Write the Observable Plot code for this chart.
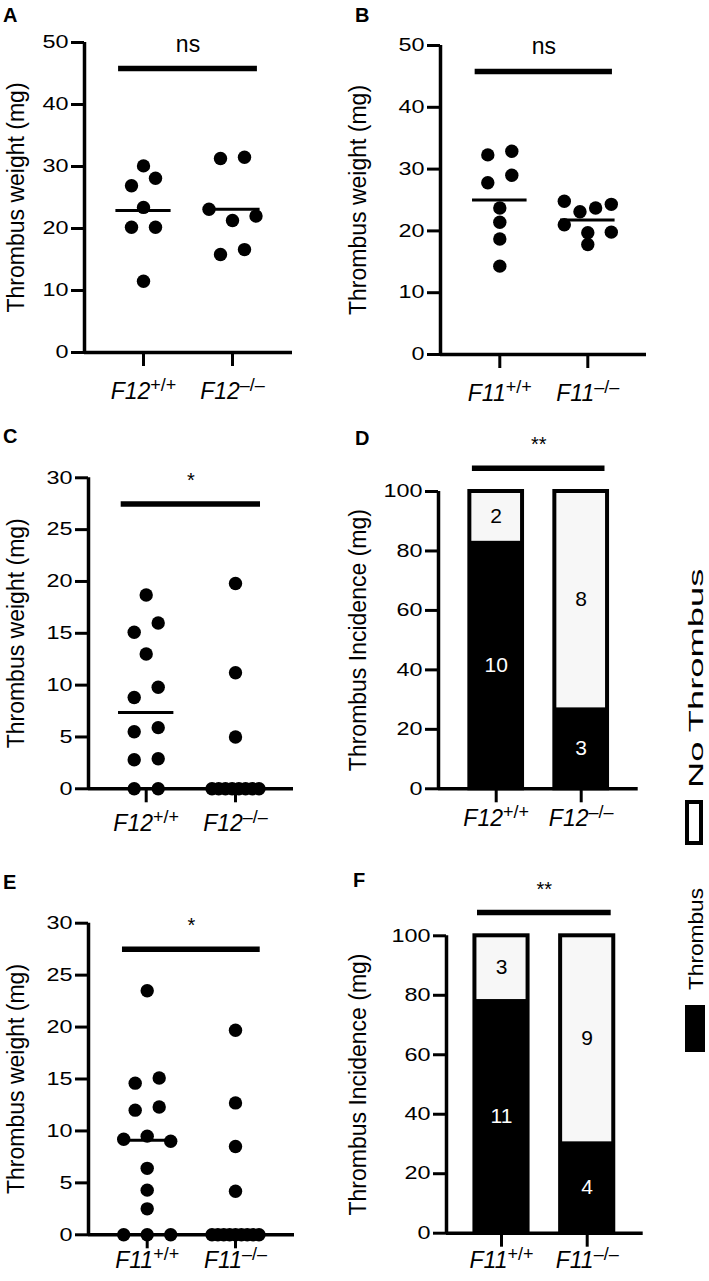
<!DOCTYPE html>
<html><head><meta charset="utf-8">
<script src="https://cdn.jsdelivr.net/npm/d3@7"></script>
<script src="https://cdn.jsdelivr.net/npm/@observablehq/plot@0.6"></script>
<style>
body{margin:0;background:#fff;}
#root{position:relative;width:709px;height:1281px;overflow:hidden;font-family:"Liberation Sans",Arial,sans-serif;background:#fff;}
.panel{position:absolute;}
.letter{position:absolute;font-weight:bold;font-size:20px;line-height:20px;font-family:"Liberation Sans",Arial,sans-serif;}
</style></head><body><div id="root"></div>
<script>
// ---------------- DATA ----------------
const f12Labels = ["F12+/+", "F12–/–"];
const f11Labels = ["F11+/+", "F11–/–"];

const panelA_wt = [30.1, 26.9, 28.1, 23.4, 20.2, 20.2, 11.5];
const panelA_ko = [31.3, 31.5, 23.1, 21.3, 22.0, 15.8, 16.6];
const panelB_wt = [32.3, 32.9, 27.8, 29.0, 23.7, 21.4, 18.7, 14.3];
const panelB_ko = [24.8, 23.1, 23.7, 24.3, 21.0, 19.7, 19.8, 17.8];
const panelC_wt = [18.7, 15.1, 16.0, 13.0, 8.8, 9.8, 5.5, 5.9, 2.8, 2.9, 0, 0];
const panelC_ko = [19.8, 11.2, 5.0, 0, 0, 0, 0, 0, 0, 0, 0];
const panelE_wt = [23.5, 14.6, 15.1, 12.0, 12.3, 9.2, 9.5, 9.0, 6.4, 4.3, 2.5, 0, 0, 0];
const panelE_ko = [19.7, 12.7, 8.5, 4.2, 0, 0, 0, 0, 0, 0, 0, 0, 0];

const panelD_thrombus = [10, 3];
const panelD_none = [2, 8];
const panelF_thrombus = [11, 4];
const panelF_none = [3, 9];

const sigLabels = {A: "ns", B: "ns", C: "*", D: "**", E: "*", F: "**"};
const weightTicksAB = [0, 10, 20, 30, 40, 50];
const weightTicksCE = [0, 5, 10, 15, 20, 25, 30];
const incidenceTicks = [0, 20, 40, 60, 80, 100];
const weightLabel = "Thrombus weight (mg)";
const incidenceLabel = "Thrombus Incidence (mg)";
const legendLabels = ["No Thrombus", "Thrombus"];
const panelLetters = ["A", "B", "C", "D", "E", "F"];

// ---------------- LAYOUT ----------------
const layout = {
  A: {left: 0, top: 0, w: 340, h: 420, axisX: 84, rightX: 292, yTop: 42, yBot: 352, c0: 143, c1: 232, labelDy: 46, labelX: 16},
  B: {left: 340, top: 0, w: 369, h: 420, axisX: 100, rightX: 306, yTop: 45, yBot: 354, c0: 159.3, c1: 247.3, labelDy: 46, labelX: 18},
  C: {left: 0, top: 420, w: 340, h: 430, axisX: 88, rightX: 293, yTop: 57.3, yBot: 368.3, c0: 145.7, c1: 235, labelDy: 42, labelX: 16},
  D: {left: 340, top: 420, w: 369, h: 430, axisX: 98, rightX: 297.7, yTop: 71, yBot: 368.3, c0: 155.7, c1: 240.7, labelDy: 37, labelX: 18},
  E: {left: 0, top: 850, w: 340, h: 431, axisX: 88, rightX: 294, yTop: 72.7, yBot: 384.3, c0: 146.7, c1: 235, labelDy: 33, labelX: 16},
  F: {left: 340, top: 850, w: 369, h: 431, axisX: 106, rightX: 302.7, yTop: 85.3, yBot: 382.7, c0: 161, c1: 246.7, labelDy: 35, labelX: 18}
};
const letterPos = {A: [3, 5], B: [355, 5], C: [3, 426], D: [355, 428], E: [3, 872], F: [353, 870]};
const FONT = '"Liberation Sans", Arial, sans-serif';
const XFONT = 23;

const root = document.getElementById("root");

function frameOpts(L, yMax) {
  const step = L.c1 - L.c0;
  const xDom = [(L.axisX - L.c0) / step, (L.rightX - L.c0) / step];
  return {step, xDom, plot: {
    width: L.w, height: L.h,
    marginLeft: L.axisX, marginRight: L.w - L.rightX,
    marginTop: L.yTop, marginBottom: L.h - L.yBot,
    x: {type: "linear", domain: xDom},
    y: {type: "linear", domain: [0, yMax]},
    style: {fontFamily: FONT, overflow: "visible", background: "transparent", color: "black"}
  }};
}

function axesMarks(L, labels, ticks, yMax, xDom, step, yLabel) {
  const xLab = (L.labelX - L.c0) / step;
  return [
    Plot.ruleX([xDom[0]], {y1: 0, y2: yMax, strokeWidth: 3.5, stroke: "black"}),
    Plot.ruleY([0], {x1: xDom[0], x2: xDom[1], strokeWidth: 3.5, stroke: "black"}),
    Plot.axisY({ticks, tickSize: 13, tickPadding: 3, fontSize: 18, strokeWidth: 3, label: null, tickFormat: d => String(d)}),
    Plot.axisX({ticks: [0, 1], tickSize: 14, tickPadding: L.labelDy - 14 - 0.71 * XFONT, fontSize: XFONT, strokeWidth: 3, label: null, tickFormat: i => labels[i]}),
    Plot.text([yLabel], {text: d => d, x: xLab, y: yMax / 2, rotate: -90, fontSize: 23, fill: "black"})
  ];
}

function postProcess(svg) {
  const s = d3.select(svg);
  s.selectAll('g[aria-label="x-axis tick label"] text').each(function () {
    const t = this.textContent;
    const m = t.match(/^(F\d+)(.*)$/);
    if (!m) return;
    const sel = d3.select(this);
    sel.text(null);
    sel.append("tspan").attr("font-style", "italic").text(m[1]);
    sel.append("tspan").attr("font-size", 18).attr("dy", -8).text(m[2]);
  });
  s.selectAll('g[aria-label="y-axis tick label"] text').each(function () {
    const tr = this.getAttribute("transform");
    if (tr) this.setAttribute("transform", tr + " scale(1.3,1)");
  });
}

function place(svg, L) {
  const div = document.createElement("div");
  div.className = "panel";
  div.style.left = L.left + "px";
  div.style.top = L.top + "px";
  div.appendChild(svg);
  root.appendChild(div);
}

function scatterPanel(key, groups, labels, ticks, stat) {
  const L = layout[key];
  const yMax = ticks[ticks.length - 1];
  const {step, xDom, plot} = frameOpts(L, yMax);
  const pxPerUnit = (L.yBot - L.yTop) / yMax;
  const pts = [];
  groups.forEach((vals, gi) => {
    const idx = vals.map((v, i) => i).sort((a, b) => vals[b] - vals[a] || a - b);
    const rows = [];
    let cur = null;
    for (const i of idx) {
      if (cur && (vals[cur.start] - vals[i]) * pxPerUnit <= 11.8) cur.items.push(i);
      else { cur = {start: i, items: [i]}; rows.push(cur); }
    }
    for (const r of rows) {
      r.items.sort((a, b) => a - b);
      const n = r.items.length;
      const sp = n > 1 ? Math.min(24, 47 / (n - 1)) : 0;
      r.items.forEach((i, k) => pts.push({x: gi + (k - (n - 1) / 2) * sp / step, y: vals[i]}));
    }
  });
  const centers = groups.map((vals, gi) => ({gi, v: stat === "mean" ? d3.mean(vals) : d3.median(vals)}));
  const sigY = yMax * 0.916;
  const svg = Plot.plot({
    ...plot,
    marks: [
      ...axesMarks(L, labels, ticks, yMax, xDom, step, weightLabel),
      Plot.ruleY(centers, {y: "v", x1: d => d.gi - 0.31, x2: d => d.gi + 0.31, strokeWidth: 3, stroke: "black"}),
      Plot.dot(pts, {x: "x", y: "y", r: 6.7, fill: "black", stroke: "none"}),
      Plot.ruleY([sigY], {x1: -0.28, x2: 1.28, strokeWidth: 5.5, stroke: "black"}),
      Plot.text([sigLabels[key]], {text: d => d, x: 0.5, y: sigY, dy: -17, lineAnchor: "bottom", fontSize: key === "A" || key === "B" ? 23 : 20, fill: "black"})
    ]
  });
  postProcess(svg);
  place(svg, L);
}

function barPanel(key, labels, yes, no, ticks) {
  const L = layout[key];
  const yMax = ticks[ticks.length - 1];
  const {step, xDom, plot} = frameOpts(L, yMax);
  const rows = labels.map((c, i) => ({i, pct: yes[i] / (yes[i] + no[i]) * 100, yes: yes[i], no: no[i]}));
  const hw = 0.31;
  const sigY = yMax * 1.078;
  const svg = Plot.plot({
    ...plot,
    marks: [
      Plot.rectY(rows, {x1: d => d.i - hw, x2: d => d.i + hw, y1: 0, y2: "pct", fill: "black"}),
      Plot.rectY(rows, {x1: d => d.i - hw, x2: d => d.i + hw, y1: "pct", y2: yMax, fill: "#f7f7f7"}),
      Plot.rectY(rows, {x1: d => d.i - hw, x2: d => d.i + hw, y1: 0, y2: yMax, fill: "none", stroke: "black", strokeWidth: 4}),
      Plot.text(rows, {x: "i", y: d => d.pct / 2, text: d => String(d.yes), fill: "white", fontSize: 21}),
      Plot.text(rows, {x: "i", y: d => (d.pct + yMax) / 2, text: d => String(d.no), fill: "black", fontSize: 21}),
      ...axesMarks(L, labels, ticks, yMax, xDom, step, incidenceLabel),
      Plot.ruleY([sigY], {x1: -0.28, x2: 1.28, strokeWidth: 5.5, stroke: "black"}),
      Plot.text([sigLabels[key]], {text: d => d, x: 0.5, y: sigY, dy: -17, lineAnchor: "bottom", fontSize: 20, fill: "black"})
    ]
  });
  postProcess(svg);
  place(svg, L);
}

scatterPanel("A", [panelA_wt, panelA_ko], f12Labels, weightTicksAB, "mean");
scatterPanel("B", [panelB_wt, panelB_ko], f11Labels, weightTicksAB, "mean");
scatterPanel("C", [panelC_wt, panelC_ko], f12Labels, weightTicksCE, "median");
barPanel("D", f12Labels, panelD_thrombus, panelD_none, incidenceTicks);
scatterPanel("E", [panelE_wt, panelE_ko], f11Labels, weightTicksCE, "median");
barPanel("F", f11Labels, panelF_thrombus, panelF_none, incidenceTicks);

// panel letters
panelLetters.forEach(k => {
  const d = document.createElement("div");
  d.className = "letter";
  d.style.left = letterPos[k][0] + "px";
  d.style.top = letterPos[k][1] + "px";
  d.textContent = k;
  root.appendChild(d);
});

// legend
const lg = d3.select(root).append("svg")
  .attr("width", 40).attr("height", 520)
  .style("position", "absolute").style("left", "670px").style("top", "540px")
  .style("overflow", "visible")
  .attr("font-family", FONT);
lg.append("text").attr("transform", "translate(33,248) rotate(-90) scale(1.73,1)").attr("font-size", 21).text(legendLabels[0]);
lg.append("rect").attr("x", 17).attr("y", 262).attr("width", 14).attr("height", 41).attr("fill", "white").attr("stroke", "black").attr("stroke-width", 4);
lg.append("text").attr("transform", "translate(33,450) rotate(-90) scale(1.08,1)").attr("font-size", 21).text(legendLabels[1]);
lg.append("rect").attr("x", 15).attr("y", 465).attr("width", 20).attr("height", 47).attr("fill", "black");
</script></body></html>
